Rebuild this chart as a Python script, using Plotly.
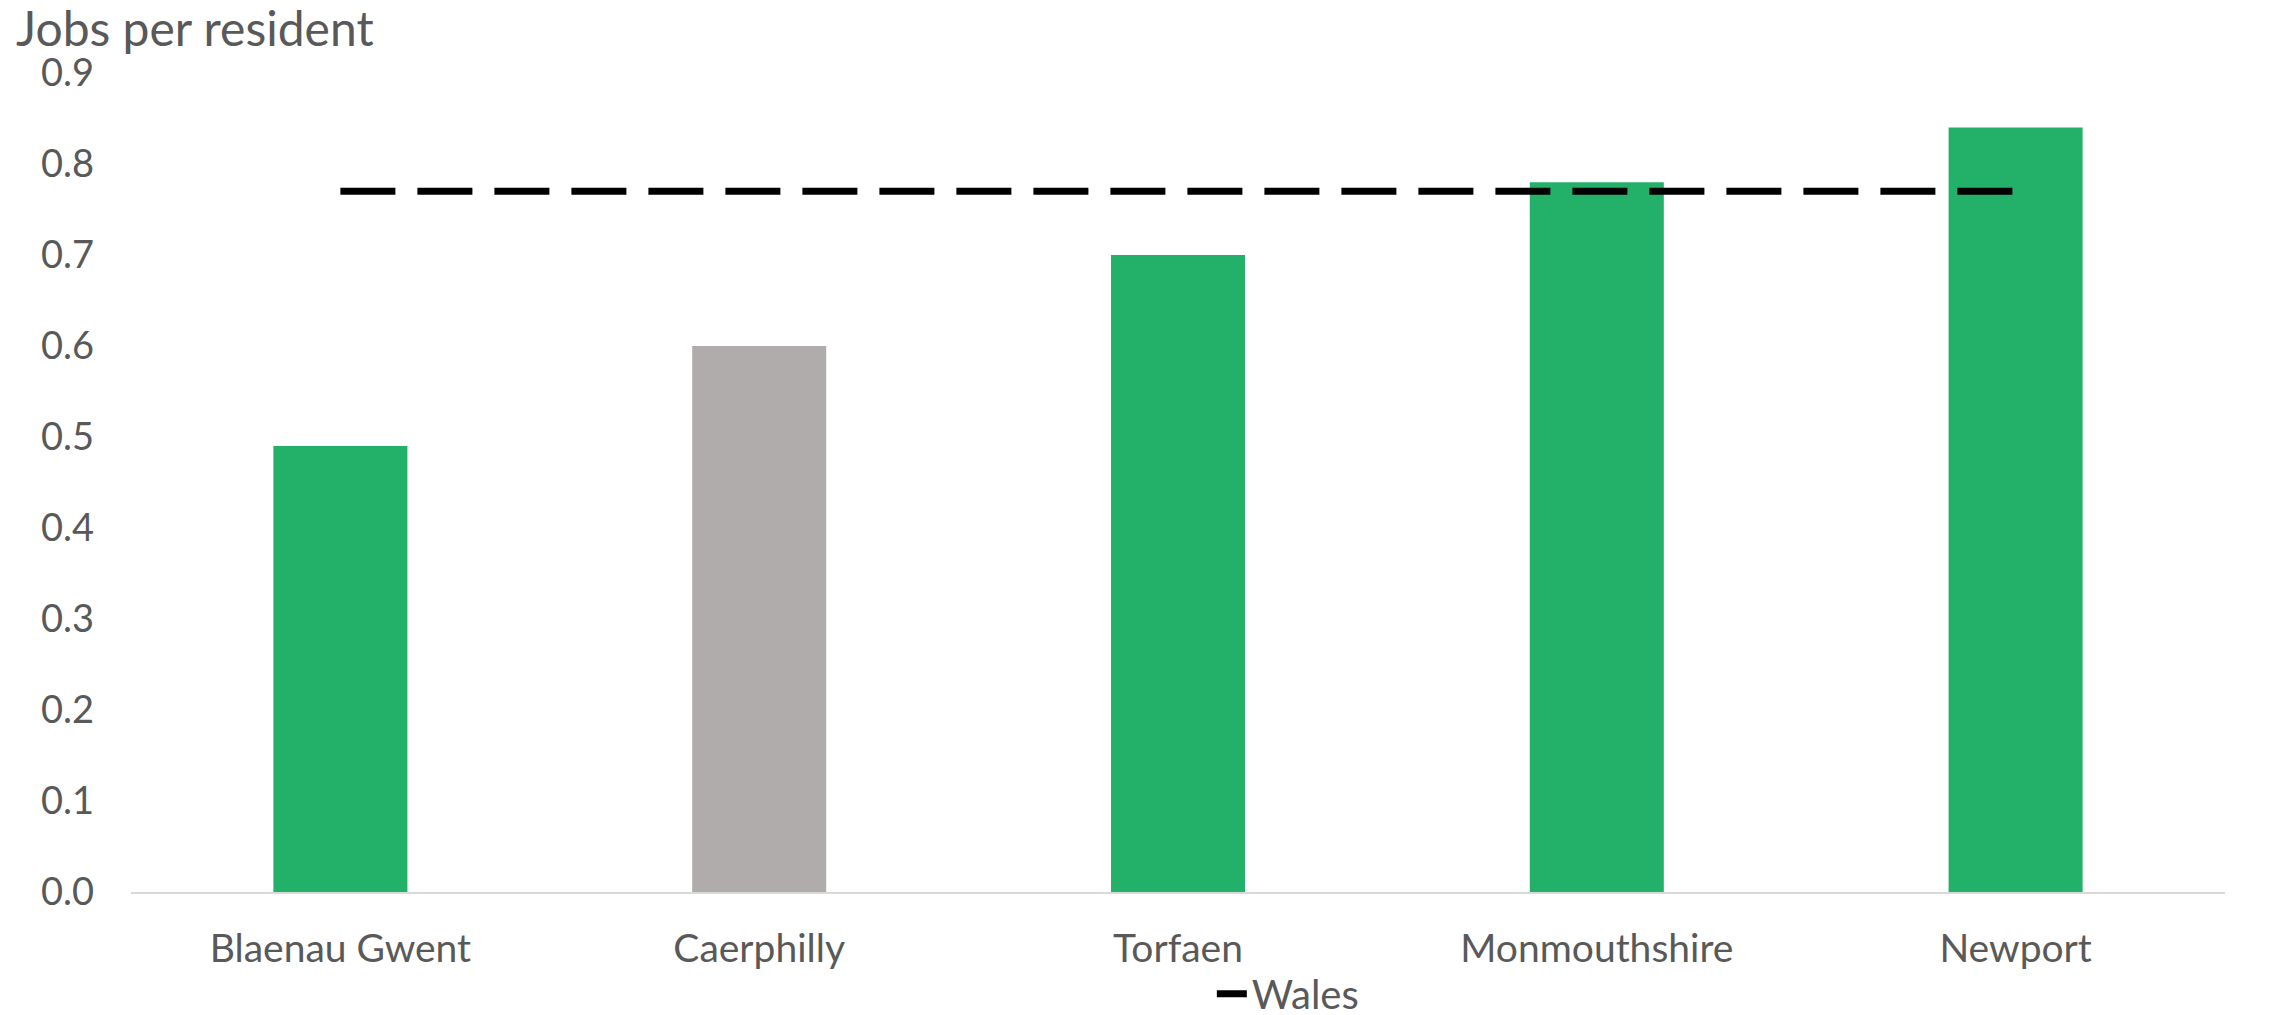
import plotly.graph_objects as go

categories = ["Blaenau Gwent", "Caerphilly", "Torfaen", "Monmouthshire", "Newport"]
jobs_per_resident = [0.49, 0.60, 0.70, 0.78, 0.84]
bar_colors = ["#23B169", "#AFACAB", "#23B169", "#23B169", "#23B169"]
wales_value = [0.77, 0.77, 0.77, 0.77, 0.77]
y_ticks = [0.0, 0.1, 0.2, 0.3, 0.4, 0.5, 0.6, 0.7, 0.8, 0.9]

FONT = "Lato, Calibri, Carlito, sans-serif"
GREY = "#595959"

fig = go.Figure()
fig.add_trace(go.Bar(
    x=categories, y=jobs_per_resident,
    marker=dict(color=bar_colors, line=dict(width=0)),
    showlegend=False, name="Jobs per resident",
))
fig.add_trace(go.Scatter(
    x=categories, y=wales_value, mode="lines", name="Wales",
    line=dict(color="#000000", width=7, dash="55px,22px"),
))

fig.update_layout(
    width=2280, height=1007,
    margin=dict(l=123, r=63, t=65, b=123),
    plot_bgcolor="white", paper_bgcolor="white",
    bargap=0.68,
    font=dict(family=FONT, size=39, color=GREY),
    showlegend=True,
    legend=dict(orientation="h", xref="container", yref="container",
                x=0.528, xanchor="left", y=0.021, yanchor="middle",
                font=dict(size=40, color=GREY), bgcolor="rgba(0,0,0,0)"),
    annotations=[dict(text="Jobs per resident", xref="paper", yref="paper",
                      x=-0.0559, xanchor="left", y=1.0, yanchor="middle", yshift=46,
                      showarrow=False, font=dict(size=48, color=GREY, family=FONT))],
)
fig.update_xaxes(showline=True, linecolor="#D9D9D9", linewidth=2, showgrid=False,
                 ticks="", tickfont=dict(size=39, color=GREY), ticklabelstandoff=21,
                 automargin=False)
fig.update_yaxes(range=[0, 0.9], tickvals=y_ticks, tickformat=".1f", showgrid=False,
                 zeroline=False, showline=False, ticks="", automargin=False,
                 tickfont=dict(size=38, color=GREY), ticklabelstandoff=36)

fig.write_html("out.html")
